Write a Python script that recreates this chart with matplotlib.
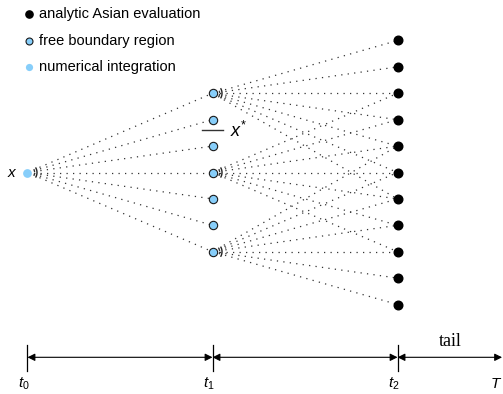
import numpy as np
import matplotlib
matplotlib.use("Agg")
import matplotlib.pyplot as plt

plt.rcParams['font.family'] = ['Liberation Sans', 'DejaVu Sans']
plt.rcParams['mathtext.fontset'] = 'custom'
plt.rcParams['mathtext.rm'] = 'Liberation Sans'
plt.rcParams['mathtext.it'] = 'Liberation Sans:italic'

# monitoring dates on the time axis
times = [0.0, 1.0, 2.0]
t_end = 2.565
time_labels = [r'$t_0$', r'$t_1$', r'$t_2$']
end_label = r'$T$'

# node levels (log-price grid) at each date
root_level = 0
mid_levels = [3, 2, 1, 0, -1, -2, -3]
right_levels = [5, 4, 3, 2, 1, 0, -1, -2, -3, -4, -5]

# mid nodes that get expanded further, with their target levels at t2
fan_targets = {
    3: [5, 4, 3, 2, 1, 0, -1],
    0: [3, 2, 1, 0, -1, -2, -3],
    -3: [1, 0, -1, -2, -3, -4, -5],
}
x_star = 1.61

legend_labels = ['analytic Asian evaluation', 'free boundary region', 'numerical integration']

blue = '#87CEFA'
dot_style = dict(color='#333333', lw=0.9, ls=(0, (1.0, 4.2)), zorder=1)

fig = plt.figure(figsize=(5.03, 3.94), dpi=100)
ax = fig.add_axes([0, 0, 1, 1])
ax.set_xlim(-0.1486, 2.570)
ax.set_ylim(-8.39, 6.534)
ax.axis('off')

px_x = 185.0   # pixels per time unit
px_y = 26.4    # pixels per level


def fan_arc(x0, y0, r=9.5, half=28):
    a = np.radians(np.linspace(-half, half, 20))
    ax.plot(x0 + r * np.cos(a) / px_x, y0 + r * np.sin(a) / px_y,
            color='#222222', lw=1.0, zorder=2)


# root -> t1
for lv in mid_levels:
    ax.plot([times[0], times[1]], [root_level, lv], **dot_style)
fan_arc(times[0], root_level)

# t1 -> t2
for src, targets in fan_targets.items():
    for lv in targets:
        ax.plot([times[1], times[2]], [src, lv], **dot_style)
    fan_arc(times[1], src)

ax.plot([times[0]], [root_level], 'o', ms=6.3, color=blue, mec='none', zorder=3)
ax.plot([times[1]] * len(mid_levels), mid_levels, 'o', ms=6.0, mfc=blue,
        mec='#1a1a1a', mew=0.8, ls='none', zorder=3)
ax.plot([times[2]] * len(right_levels), right_levels, 'o', ms=6.2,
        color='black', ls='none', zorder=3)

ax.text(-0.084, root_level, r'$x$', fontsize=11, ha='center', va='center')
ax.plot([times[1] - 0.057, times[1] + 0.057], [x_star, x_star], color='#333333', lw=1.0)
ax.text(times[1] + 0.095, x_star - 0.05, r'$x^{*}$', fontsize=13, ha='left', va='center')

# legend
leg_y = [6.0, 4.98, 4.0]
ax.plot([0.008], [leg_y[0]], 'o', ms=5.2, color='black')
ax.plot([0.008], [leg_y[1]], 'o', ms=5.0, mfc=blue, mec='#1a1a1a', mew=0.8)
ax.plot([0.008], [leg_y[2]], 'o', ms=5.2, color=blue, mec='none')
for y, lab in zip(leg_y, legend_labels):
    ax.text(0.062, y, lab, fontsize=10.5, ha='left', va='center')

# time axis
axis_y = -7.0
bounds = times + [t_end]
for a, b in zip(bounds[:-1], bounds[1:]):
    ax.annotate('', xy=(b, axis_y), xytext=(a, axis_y),
                arrowprops=dict(arrowstyle='<|-|>', color='black', lw=0.8,
                                shrinkA=0, shrinkB=0, mutation_scale=11))
for t, lab in zip(times, time_labels):
    ax.plot([t, t], [-6.53, -7.52], color='black', lw=0.9)
    ax.text(t - 0.02, -8.0, lab, fontsize=11, ha='center', va='center')
ax.text(t_end - 0.03, -8.0, end_label, fontsize=11, ha='center', va='center')
ax.text(2.284, -6.42, 'tail', fontsize=13, family='Liberation Serif',
        ha='center', va='center')

fig.savefig('out.png', dpi=100)
